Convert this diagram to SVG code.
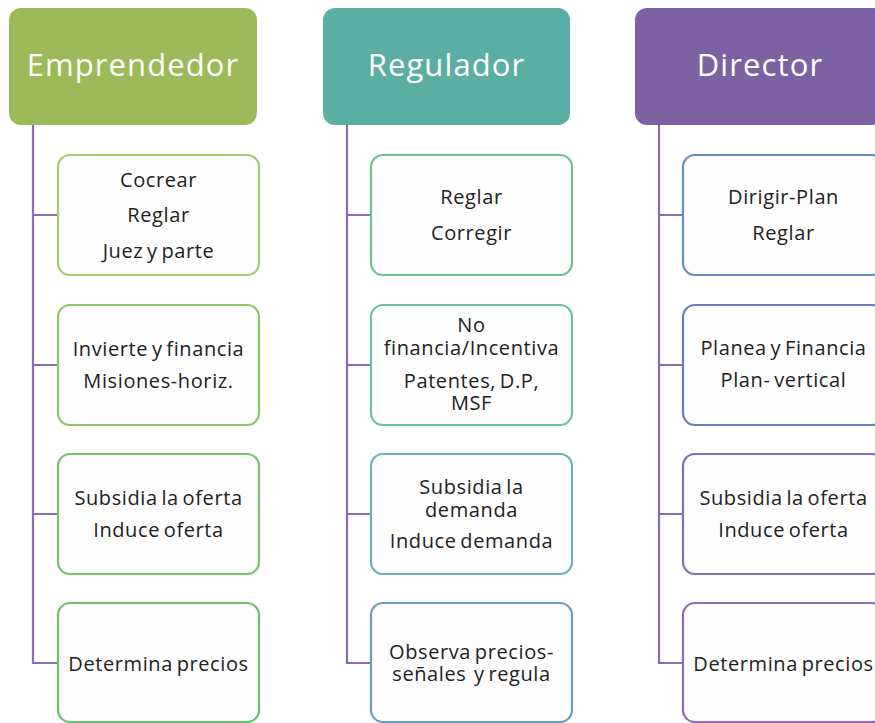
<svg xmlns="http://www.w3.org/2000/svg" width="875" height="723" viewBox="0 0 875 723">
<style>
.hd{font-family:"Open Sans","Liberation Sans",sans-serif;font-size:31px;letter-spacing:1.1px;fill:#ffffff;text-anchor:middle}
.tx{font-family:"Open Sans","Liberation Sans",sans-serif;font-size:20px;letter-spacing:0.6px;word-spacing:-2px;fill:#222222;text-anchor:middle}
.bx{fill:#fdfdfd;stroke-width:2.2}
.cn{fill:none;stroke:#8b6cb9;stroke-width:2.2}
</style>
<rect width="875" height="723" fill="#ffffff"/>
<g id="connectors">
<path class="cn" d="M33 125V663H58M33 215H58M33 365H58M33 514H58"/>
<path class="cn" d="M347 125V663H371M347 215H371M347 365H371M347 514H371"/>
<path class="cn" d="M659 125V663H683M659 215H683M659 365H683M659 514H683"/>
</g>
<g id="h-emprendedor"><rect x="9" y="8" width="248" height="117" rx="12" fill="#9bbb59"/><text class="hd" x="133" y="76">Emprendedor</text></g>
<g id="h-regulador"><rect x="323" y="8" width="247" height="117" rx="12" fill="#5baea4"/><text class="hd" x="446.5" y="76">Regulador</text></g>
<g id="h-director"><rect x="635" y="8" width="250" height="117" rx="12" fill="#7e61a0"/><text class="hd" x="760" y="76">Director</text></g>

<g id="e1"><rect class="bx" x="58" y="155" width="201" height="120" rx="12" stroke="#a6cc6e"/><text class="tx" x="158.5" y="187">Cocrear</text><text class="tx" x="158.5" y="222">Reglar</text><text class="tx" x="158.5" y="258">Juez y parte</text></g>
<g id="e2"><rect class="bx" x="58" y="305" width="201" height="120" rx="12" stroke="#8cc866"/><text class="tx" x="158.5" y="356">Invierte y financia</text><text class="tx" x="158.5" y="388">Misiones-horiz.</text></g>
<g id="e3"><rect class="bx" x="58" y="454" width="201" height="120" rx="12" stroke="#75c46c"/><text class="tx" x="158.5" y="505">Subsidia la oferta</text><text class="tx" x="158.5" y="537">Induce oferta</text></g>
<g id="e4"><rect class="bx" x="58" y="603" width="201" height="119" rx="12" stroke="#6dbf72"/><text class="tx" x="158.5" y="671">Determina precios</text></g>

<g id="r1"><rect class="bx" x="371" y="155" width="201" height="120" rx="12" stroke="#6dc193"/><text class="tx" x="471.5" y="204">Reglar</text><text class="tx" x="471.5" y="240">Corregir</text></g>
<g id="r2"><rect class="bx" x="371" y="305" width="201" height="120" rx="12" stroke="#6ac0a8"/><text class="tx" x="471.5" y="332">No</text><text class="tx" x="471.5" y="355">financia/Incentiva</text><text class="tx" x="471.5" y="388">Patentes, D.P,</text><text class="tx" x="471.5" y="410">MSF</text></g>
<g id="r3"><rect class="bx" x="371" y="454" width="201" height="120" rx="12" stroke="#68b2b8"/><text class="tx" x="471.5" y="494">Subsidia la</text><text class="tx" x="471.5" y="517">demanda</text><text class="tx" x="471.5" y="548">Induce demanda</text></g>
<g id="r4"><rect class="bx" x="371" y="603" width="201" height="119" rx="12" stroke="#6a9dc0"/><text class="tx" x="471.5" y="659">Observa precios-</text><text class="tx" x="471.5" y="681" style="white-space:pre">señales  y regula</text></g>

<g id="d1"><rect class="bx" x="683" y="155" width="201" height="120" rx="12" stroke="#6a8cc4"/><text class="tx" x="783.5" y="204">Dirigir-Plan</text><text class="tx" x="783.5" y="240">Reglar</text></g>
<g id="d2"><rect class="bx" x="683" y="305" width="201" height="120" rx="12" stroke="#6f7cc0"/><text class="tx" x="783.5" y="355">Planea y Financia</text><text class="tx" x="783.5" y="387">Plan- vertical</text></g>
<g id="d3"><rect class="bx" x="683" y="454" width="201" height="120" rx="12" stroke="#7d70bd"/><text class="tx" x="783.5" y="505">Subsidia la oferta</text><text class="tx" x="783.5" y="537">Induce oferta</text></g>
<g id="d4"><rect class="bx" x="683" y="603" width="201" height="119" rx="12" stroke="#8c6bb8"/><text class="tx" x="783.5" y="671">Determina precios</text></g>
</svg>
